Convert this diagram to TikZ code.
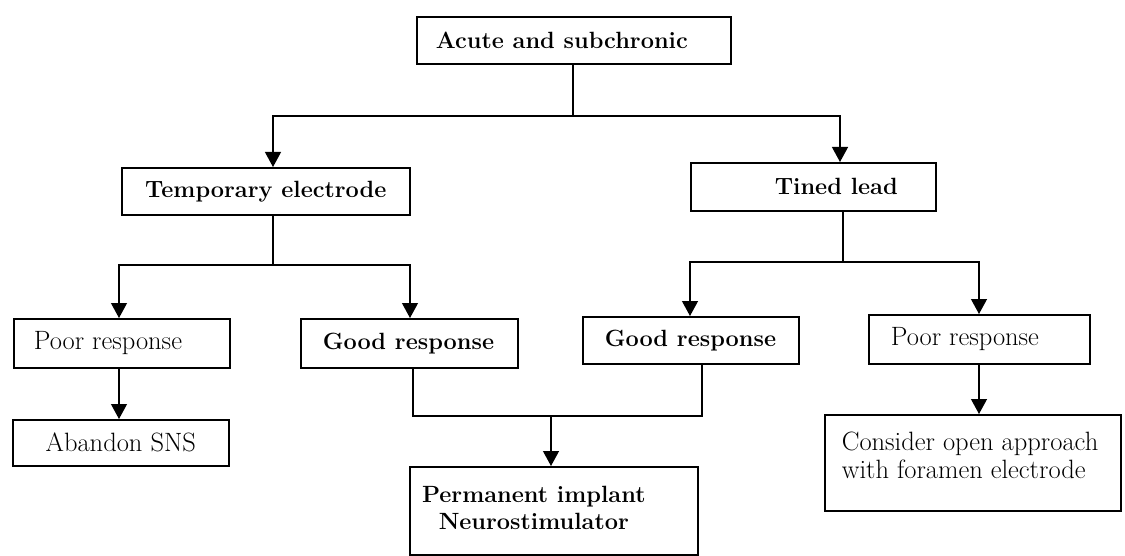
\documentclass[tikz,border=0pt]{standalone}
\usetikzlibrary{arrows.meta}
\begin{document}
\begin{tikzpicture}[x=1pt,y=-1pt,
  box/.style={draw,line width=1.6pt,inner sep=0pt,anchor=north west},
  conn/.style={line width=1.2pt},
  arr/.style={line width=1.2pt,-{Triangle[width=16pt,length=15pt]}},
  nf/.style={font=\fontsize{26.5}{28}\selectfont},
  bf/.style={font=\fontsize{23.5}{27}\selectfont\bfseries}]
\useasboundingbox (0,0) rectangle (1125,556);

\node[box,bf] (top) at (416,16) {\parbox[c][47pt][c]{314pt}{\hspace*{19pt}Acute and subchronic}};
\node[box,bf] (temp) at (121,167) {\parbox[c][47pt][c]{288pt}{\centering Temporary electrode}};
\node[box,bf] (tined) at (690,162) {\parbox[c][48pt][c]{245pt}{\hspace*{84pt}Tined lead}};
\node[box,nf] (poorL) at (13,318) {\parbox[c][49pt][c]{216pt}{\hspace*{20pt}Poor response}};
\node[box,bf] (goodL) at (300,318) {\parbox[c][49pt][c]{217pt}{\hspace*{22pt}Good response}};
\node[box,bf] (goodR) at (582,316) {\parbox[c][47pt][c]{216pt}{\hspace*{22pt}Good response}};
\node[box,nf] (poorR) at (868,314) {\parbox[c][49pt][c]{221pt}{\hspace*{22pt}Poor response}};
\node[box,nf] (abandon) at (12,419) {\parbox[c][46pt][c]{216pt}{\centering Abandon SNS}};
\node[box,bf] (perm) at (409,466) {\parbox[c][88pt][t]{248pt}{\vspace*{19pt}\centering Permanent implant\\Neurostimulator}\hspace*{40pt}};
\node[box,nf] (consider) at (824,414) {\parbox[c][96pt][t]{296pt}{\vspace*{17pt}\hspace*{17pt}Consider open approach\\\hspace*{17pt}with foramen electrode}};

% level 1
\coordinate (j0) at (573,116);
\coordinate (hL) at (273,116);
\coordinate (hR) at (840,116);
\draw[conn] (top.south -| j0) -- (j0);
\draw[arr] (j0) -| (hL |- temp.north);
\draw[arr] (j0) -| (hR |- tined.north);

% temporary electrode branch
\coordinate (t1) at (273,265);
\coordinate (t1L) at (119,265);
\coordinate (t1R) at (410,265);
\draw[conn] (t1 |- temp.south) -- (t1);
\draw[arr] (t1) -| (t1L |- poorL.north);
\draw[arr] (t1) -| (t1R |- goodL.north);
\draw[arr] (t1L |- poorL.south) -- (t1L |- abandon.north);

% tined lead branch
\coordinate (r1) at (843,262);
\coordinate (r1L) at (690,262);
\coordinate (r1R) at (979,262);
\draw[conn] (r1 |- tined.south) -- (r1);
\draw[arr] (r1) -| (r1L |- goodR.north);
\draw[arr] (r1) -| (r1R |- poorR.north);
\draw[arr] (r1R |- poorR.south) -- (r1R |- consider.north);

% good responses join
\coordinate (gL) at (413,416);
\coordinate (gR) at (702,416);
\coordinate (gM) at (551,416);
\draw[conn] (gL |- goodL.south) -- (gL) -- (gR) -- (gR |- goodR.south);
\draw[arr] (gM) -- (gM |- perm.north);
\end{tikzpicture}
\end{document}
